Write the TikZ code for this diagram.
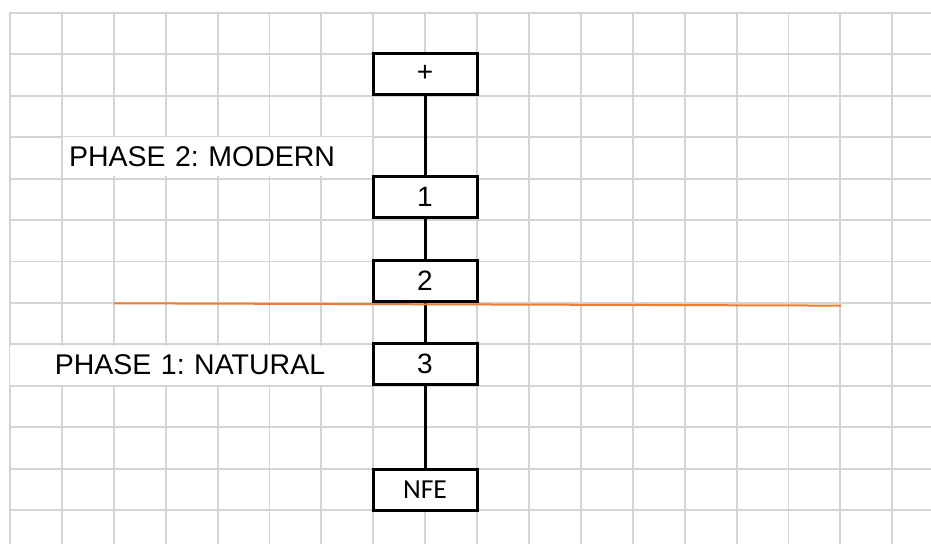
\documentclass[tikz,border=0pt]{standalone}
\usepackage{fontspec}
\setmainfont{Liberation Sans}
\newfontfamily\nfefont{Carlito}
\definecolor{gridgray}{HTML}{D4D4D4}
\definecolor{phaseline}{HTML}{ED7D31}
\frenchspacing

\begin{document}
\begin{tikzpicture}[x=1pt, y=-1pt,
	every node/.style={black, font=\fontsize{28}{30}\selectfont},
	box/.style={draw, fill=white, line width=3pt, minimum width=104pt, minimum height=41pt, inner sep=0pt},
	phase/.style={fill=white, minimum height=39pt, inner sep=0pt, font=\fontsize{28.5}{30}\selectfont}]
				\useasboundingbox (0,0) rectangle (931,544);
				\foreach \i in {0,...,17}
					\draw[gridgray, line width=1.9pt] (10+51.9*\i,12) -- (10+51.9*\i,544);
				\foreach \j in {0,...,12}
					\draw[gridgray, line width=1.9pt] (9,13+41.42*\j) -- (931,13+41.42*\j);
				\node[phase, text width=297pt, inner xsep=6pt, align=left] (modern) at (217.5,156.5) {PHASE 2: MODERN};
				\node[phase, text width=361pt, align=center] (natural) at (190,365.1) {PHASE 1: NATURAL};
				\foreach \name/\y/\lbl in {plus/73.7/+, one/197.2/1, two/281.2/2, three/364.2/3}
					\node[box] (\name) at (425,\y) {\lbl};
				\node[box, font=\nfefont\fontsize{27.5}{30}\selectfont] (nfe) at (425,490) {NFE};
				\foreach \a/\b in {plus/one, one/two, two/three, three/nfe}
					\draw[line width=3pt] (\a) -- (\b);
				\coordinate (divL) at (114,303.3);
				\coordinate (divR) at (841,305.6);
				\draw[phaseline, line width=2pt] (divL) -- (divR);
			\end{tikzpicture}
\end{document}
